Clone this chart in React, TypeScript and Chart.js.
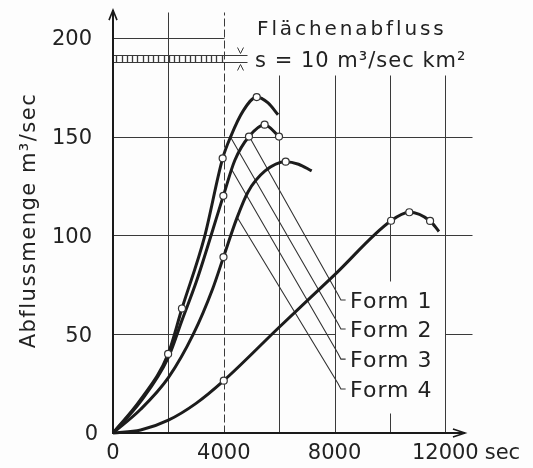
import React, { useEffect, useRef } from "react";
import { Chart, registerables } from "chart.js";

Chart.register(...registerables);

// ---- data (time in sec, discharge in m³/sec) ----
const form1Time = [0, 1000, 1990, 2490, 3300, 3960, 4250, 4700, 5190, 5600, 5960];
const form1Flow = [0, 17, 40, 63, 99, 139, 150, 163, 170, 167, 161];
const form1Marks = [2, 3, 5, 8];

const form2Time = [0, 1000, 1990, 2490, 3020, 3985, 4400, 4910, 5475, 5995];
const form2Flow = [0, 16, 38, 57, 77, 120, 138, 150, 156, 150];
const form2Marks = [5, 7, 8, 9];

const form3Time = [0, 1000, 2000, 2900, 3600, 3990, 4480, 4875, 5490, 6236, 6700, 7175];
const form3Flow = [0, 12, 28, 50, 73, 89, 109, 122, 132.6, 137.3, 136, 132.6];
const form3Marks = [5, 9];

const form4Time = [0, 1000, 2000, 3000, 4000, 6000, 8000, 10040, 10700, 11450, 11770];
const form4Flow = [0, 1.5, 6.5, 15, 26.5, 53.5, 80, 107.4, 111.7, 107.3, 102];
const form4Marks = [4, 7, 8, 9];

// thin leader / recession lines ending at the "Form n" labels
const lead1Time = [4910, 8125, 8230, 8400];
const lead1Flow = [150.3, 70.1, 67.3, 67.3];
const lead2Time = [4225, 8125, 8230, 8400];
const lead2Flow = [150.2, 55.4, 52.6, 52.6];
const lead3Time = [4300, 8125, 8230, 8400];
const lead3Flow = [133, 40.2, 37.4, 37.4];
const lead4Time = [4478, 8125, 8230, 8400];
const lead4Flow = [109.3, 25.1, 22.3, 22.3];

const formLabels = ["Form 1", "Form 2", "Form 3", "Form 4"];
const formLabelFlow = [67.3, 52.6, 37.4, 22.3];
const formLabelTime = 8560;

const xTickValues = [0, 4000, 8000, 12000];
const xTickLabels = ["0", "4000", "8000", "12000"];
const yTickValues = [0, 50, 100, 150, 200];
const yTickLabels = ["0", "50", "100", "150", "200"];

const rainTop = 191.1;
const rainBottom = 187.6;
const rainDuration = 4000;

const titleLine1 = "Flächenabfluss";
const titleLine2 = "s = 10 m³/sec km²";
const yTitle = "Abflussmenge m³/sec";
const xUnit = "sec";

const pts = (t: number[], q: number[]) => t.map((v, i) => ({ x: v, y: q[i] }));

const INK = "#222";
const FONT = '"DejaVu Sans", sans-serif';

const paperPlugin = {
  id: "paper",
  beforeDraw(chart: any) {
    const { ctx, width, height } = chart;
    ctx.save();
    ctx.fillStyle = "#fdfdfd";
    ctx.fillRect(0, 0, width, height);
    ctx.restore();
  },
  beforeDatasetsDraw(chart: any) {
    const ctx = chart.ctx as CanvasRenderingContext2D;
    const xs = chart.scales.x;
    const ys = chart.scales.y;
    const X = (v: number) => Math.round(xs.getPixelForValue(v)) + 0.5;
    const Y = (v: number) => Math.round(ys.getPixelForValue(v)) + 0.5;
    const seg = (x1: number, y1: number, x2: number, y2: number) => {
      ctx.beginPath();
      ctx.moveTo(x1, y1);
      ctx.lineTo(x2, y2);
      ctx.stroke();
    };
    ctx.save();
    ctx.strokeStyle = "#3a3a3a";
    ctx.lineWidth = 1;
    // vertical grid
    seg(X(2000), Y(0), X(2000), Y(213));
    seg(X(6000), Y(0), X(6000), Y(181));
    seg(X(8000), Y(0), X(8000), Y(181));
    seg(X(10000), Y(0), X(10000), Y(10));
    seg(X(10000), Y(77), X(10000), Y(181));
    seg(X(12000), Y(0), X(12000), Y(181));
    // horizontal grid
    seg(X(0), Y(200), X(4000), Y(200));
    seg(X(0), Y(150), X(12960), Y(150));
    seg(X(0), Y(100), X(12960), Y(100));
    seg(X(0), Y(50), X(8000), Y(50));
    seg(X(12000), Y(50), X(12960), Y(50));
    // dashed line at end of rain
    ctx.setLineDash([8, 3]);
    seg(X(rainDuration), Y(0), X(rainDuration), Y(213));
    ctx.setLineDash([]);
    // rain band
    const yt = Y(rainTop);
    const yb = Y(rainBottom);
    seg(X(0), yt, X(4840), yt);
    seg(X(0), yb, X(4840), yb);
    ctx.lineWidth = 1.3;
    for (let t = 120; t < rainDuration; t += 190) {
      seg(X(t), yt, X(t), yb);
    }
    // thickness arrows
    ctx.lineWidth = 1;
    const xa = X(4600);
    ctx.beginPath();
    ctx.moveTo(xa - 3, yt - 8);
    ctx.lineTo(xa, yt - 2);
    ctx.lineTo(xa + 3, yt - 8);
    ctx.stroke();
    ctx.beginPath();
    ctx.moveTo(xa - 3, yb + 8);
    ctx.lineTo(xa, yb + 2);
    ctx.lineTo(xa + 3, yb + 8);
    ctx.stroke();
    ctx.restore();
  },
  afterDatasetsDraw(chart: any) {
    const ctx = chart.ctx as CanvasRenderingContext2D;
    const xs = chart.scales.x;
    const ys = chart.scales.y;
    const X = (v: number) => xs.getPixelForValue(v);
    const Y = (v: number) => ys.getPixelForValue(v);
    ctx.save();
    // axes with arrows
    ctx.strokeStyle = "#1a1a1a";
    ctx.lineWidth = 2;
    const ox = Math.round(X(0));
    const oy = Math.round(Y(0));
    const yTip = Y(214);
    const xTip = X(12710);
    ctx.beginPath();
    ctx.moveTo(ox, oy + 1);
    ctx.lineTo(ox, yTip);
    ctx.moveTo(ox - 1, oy);
    ctx.lineTo(xTip, oy);
    ctx.stroke();
    ctx.lineWidth = 1.6;
    ctx.beginPath();
    ctx.moveTo(ox - 4, yTip + 10);
    ctx.lineTo(ox, yTip);
    ctx.lineTo(ox + 4, yTip + 10);
    ctx.moveTo(xTip - 12, oy - 4);
    ctx.lineTo(xTip, oy);
    ctx.lineTo(xTip - 12, oy + 4);
    ctx.stroke();

    ctx.fillStyle = INK;
    // x tick labels
    ctx.font = `21px ${FONT}`;
    ctx.textBaseline = "middle";
    ctx.textAlign = "center";
    xTickValues.forEach((v, i) => ctx.fillText(xTickLabels[i], X(v), oy + 21));
    const lastW = ctx.measureText(xTickLabels[xTickLabels.length - 1]).width;
    ctx.textAlign = "left";
    ctx.fillText(xUnit, X(xTickValues[xTickValues.length - 1]) + lastW / 2 + 6, oy + 21);
    // y tick labels
    ctx.textAlign = "right";
    yTickValues.forEach((v, i) => {
      const xr = v === 0 ? ox - 15 : ox - 21;
      ctx.fillText(yTickLabels[i], xr, Y(v) + 2);
    });

    // y title
    ctx.save();
    ctx.translate(30, (Y(30) + Y(185)) / 2);
    ctx.rotate(-Math.PI / 2);
    ctx.textAlign = "center";
    ctx.textBaseline = "middle";
    (ctx as any).letterSpacing = "1.5px";
    ctx.fillText(yTitle, 0, 0);
    ctx.restore();

    // title
    ctx.textAlign = "left";
    ctx.textBaseline = "alphabetic";
    ctx.font = `20px ${FONT}`;
    (ctx as any).letterSpacing = "2.9px";
    ctx.fillText(titleLine1, X(5200), Y(201.4));
    ctx.font = `21px ${FONT}`;
    (ctx as any).letterSpacing = "1px";
    ctx.fillText(titleLine2, X(5130), Y(185.2));

    // form labels
    ctx.font = `22px ${FONT}`;
    (ctx as any).letterSpacing = "1px";
    formLabels.forEach((s, i) => {
      ctx.fillText(s, X(formLabelTime), Y(formLabelFlow[i]) + 8);
    });
    ctx.restore();
  },
};

export default function App() {
  const ref = useRef<HTMLCanvasElement | null>(null);
  useEffect(() => {
    if (!ref.current) return;
    const thick = (t: number[], q: number[], marks: number[]) => ({
      data: pts(t, q),
      borderColor: "#1c1c1c",
      borderWidth: 3,
      cubicInterpolationMode: "monotone" as const,
      pointRadius: (c: any) => (marks.includes(c.dataIndex) ? 3.5 : 0),
      pointBackgroundColor: "#ffffff",
      pointBorderColor: "#333",
      pointBorderWidth: 1.2,
      fill: false,
      clip: false as any,
      order: 0,
    });
    const thin = (t: number[], q: number[]) => ({
      data: pts(t, q),
      borderColor: "#333",
      borderWidth: 1.1,
      tension: 0,
      pointRadius: 0,
      fill: false,
      clip: false as any,
      order: 1,
    });
    const chart = new Chart(ref.current, {
      type: "line",
      data: {
        datasets: [
          thick(form1Time, form1Flow, form1Marks),
          thick(form2Time, form2Flow, form2Marks),
          thick(form3Time, form3Flow, form3Marks),
          thick(form4Time, form4Flow, form4Marks),
          thin(lead1Time, lead1Flow),
          thin(lead2Time, lead2Flow),
          thin(lead3Time, lead3Flow),
          thin(lead4Time, lead4Flow),
        ] as any,
      },
      options: {
        animation: false,
        responsive: false,
        layout: { padding: { left: 113, right: 60, top: 18, bottom: 35 } },
        scales: {
          x: { type: "linear", min: 0, max: 13000, display: false },
          y: { type: "linear", min: 0, max: 210, display: false },
        },
        plugins: { legend: { display: false }, tooltip: { enabled: false } },
        events: [],
      },
      plugins: [paperPlugin],
    });
    return () => chart.destroy();
  }, []);
  return (
    <div style={{ position: "absolute", left: 0, top: 0, width: 533, height: 468 }}>
      <canvas ref={ref} width={533} height={468} style={{ display: "block" }} />
    </div>
  );
}
